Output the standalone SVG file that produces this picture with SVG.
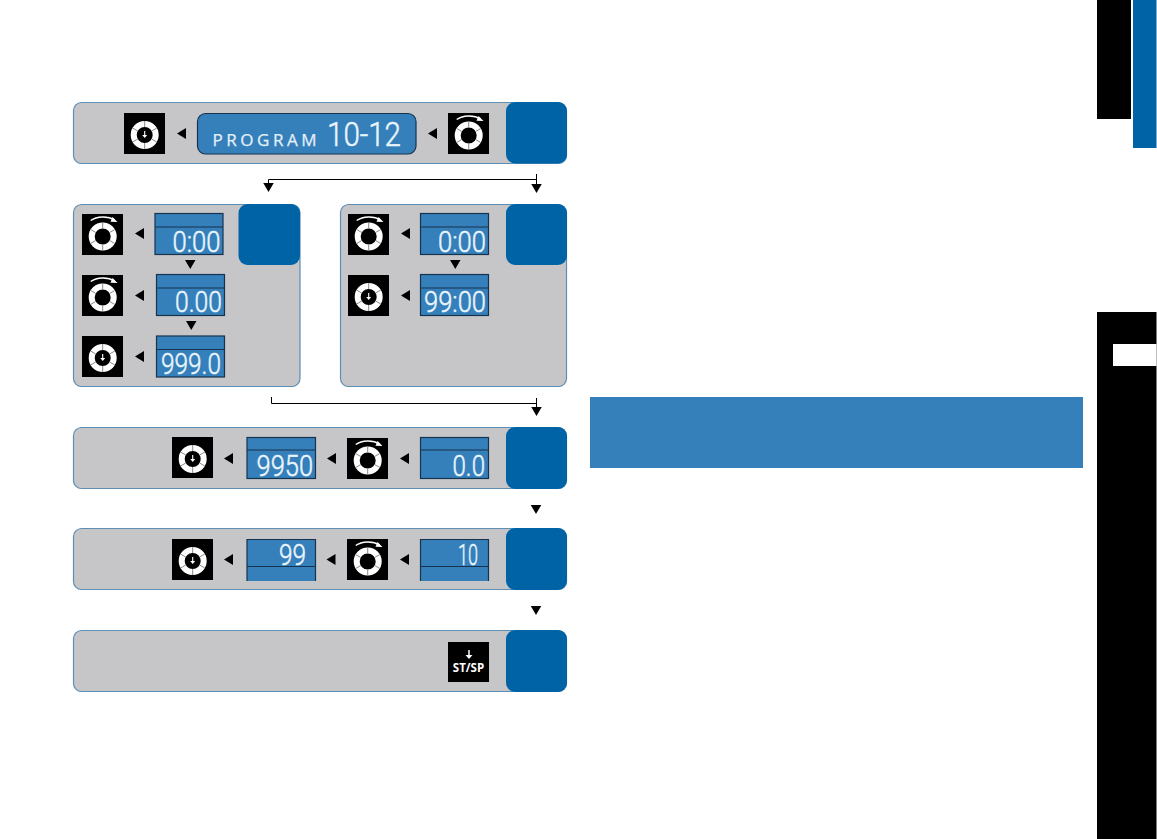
<svg xmlns="http://www.w3.org/2000/svg" width="1157" height="839" viewBox="0 0 1157 839">
<style>
.panel{fill:#c6c6c9;stroke:#5d8fb5;stroke-width:1.2}
.tab{fill:#0063a6}
.lcd{fill:#3580bb;stroke:#17324d;stroke-width:1.2}
.div{stroke:#17324d;stroke-width:1.2;fill:none}
.seg{font-family:"Roboto","Liberation Sans",sans-serif;font-weight:300;font-size:30px;fill:#eaf5fc;stroke:#eaf5fc;stroke-width:.5}
.prog{font-family:"Open Sans","Liberation Sans",sans-serif;font-size:17px;fill:#e4f0f8;stroke:#e4f0f8;stroke-width:.25}
.st{font-family:"Open Sans","Liberation Sans",sans-serif;font-weight:700;font-size:11.5px;fill:#fff;text-anchor:middle}
.con{fill:none;stroke:#000;stroke-width:1}
</style>
<defs>
<g id="ring">
<circle cx="0" cy="0" r="11" fill="none" stroke="#fff" stroke-width="6"/>
<path d="M0 -14V-8M0 14V8M12.100 -7L6.900 -4M-12.100 -7L-6.900 -4M12.100 7L6.900 4M-12.100 7L-6.900 4" stroke="#8a8a8a" stroke-width="1"/>
</g>
<g id="push">
<rect width="41" height="41" fill="#000"/>
<use href="#ring" x="20.700" y="22"/>
<path d="M20.700 18V23" stroke="#fff" stroke-width="1.100"/>
<path d="M18.200 22H23.200L20.700 25Z" fill="#fff"/>
</g>
<g id="turn">
<rect width="41" height="41" fill="#000"/>
<use href="#ring" x="20.700" y="22.500"/>
<path d="M8.700 6.500C15 1.800 26 1.800 32.500 5.800" fill="none" stroke="#fff" stroke-width="1.500"/>
<path d="M30.500 3L35.500 8L28.500 7.800Z" fill="#fff"/>
</g>
<path id="al" d="M0 5.500L9 0V11Z" fill="#000"/>
<path id="ad" d="M0 0H10.500L5.250 9Z" fill="#000"/>
</defs>

<g id="connectors">
<path class="con" d="M268.500 188V179.500H537M536.500 174V188"/>
<use href="#ad" x="263.250" y="183"/>
<use href="#ad" x="531.250" y="184"/>
<path class="con" d="M271.500 397V403.500H537M536.500 398V411"/>
<use href="#ad" x="531.250" y="407"/>
<use href="#ad" x="530.750" y="505"/>
<use href="#ad" x="530.750" y="606"/>
</g>

<g id="node-program">
<rect class="panel" x="73.500" y="102.500" width="493" height="61" rx="8"/>
<rect class="tab" x="506" y="102" width="61" height="61.500" rx="9"/>
<use href="#push" x="124" y="113"/>
<use href="#al" x="177" y="128"/>
<rect class="lcd" x="197.500" y="113.500" width="218.500" height="40.500" rx="8"/>
<text class="prog" x="212.500" y="146" textLength="104">PROGRAM</text>
<text class="seg" x="327" y="146" style="font-size:34px" textLength="74" lengthAdjust="spacingAndGlyphs">10-12</text>
<use href="#al" x="428" y="128"/>
<use href="#turn" x="448" y="113"/>
</g>

<g id="node-left">
<rect class="panel" x="73.500" y="204.500" width="226.500" height="182" rx="8"/>
<rect class="tab" x="238.500" y="204" width="61.500" height="61" rx="9"/>
<use href="#turn" x="82" y="214"/>
<use href="#al" x="135" y="228"/>
<rect class="lcd" x="155" y="213.500" width="68" height="41"/>
<path class="div" d="M155 227H223"/>
<text class="seg" x="172.500" y="252" textLength="48" lengthAdjust="spacingAndGlyphs">0:00</text>
<use href="#ad" x="185" y="260"/>
<use href="#turn" x="82" y="275"/>
<use href="#al" x="135" y="290"/>
<rect class="lcd" x="156.500" y="274.500" width="68" height="41"/>
<path class="div" d="M156.500 288H224.500"/>
<text class="seg" x="175" y="312" textLength="47" lengthAdjust="spacingAndGlyphs">0.00</text>
<use href="#ad" x="186" y="321"/>
<use href="#push" x="82" y="336"/>
<use href="#al" x="135" y="351"/>
<rect class="lcd" x="156.500" y="336" width="68" height="41"/>
<path class="div" d="M156.500 349.500H224.500"/>
<text class="seg" x="161" y="374" textLength="60" lengthAdjust="spacingAndGlyphs">999.0</text>
</g>

<g id="node-right">
<rect class="panel" x="340.500" y="204.500" width="226" height="182" rx="8"/>
<rect class="tab" x="506" y="204" width="61" height="61" rx="9"/>
<use href="#turn" x="348" y="214"/>
<use href="#al" x="401" y="228"/>
<rect class="lcd" x="420.500" y="213.500" width="68" height="41"/>
<path class="div" d="M420.500 227H488.500"/>
<text class="seg" x="438" y="252" textLength="48" lengthAdjust="spacingAndGlyphs">0:00</text>
<use href="#ad" x="450" y="260"/>
<use href="#push" x="348" y="275"/>
<use href="#al" x="401" y="290"/>
<rect class="lcd" x="420.500" y="274.500" width="68" height="41"/>
<path class="div" d="M420.500 288H488.500"/>
<text class="seg" x="424" y="312" textLength="62" lengthAdjust="spacingAndGlyphs">99:00</text>
</g>

<g id="node-row4">
<rect class="panel" x="73.500" y="427.500" width="493" height="61" rx="8"/>
<rect class="tab" x="506" y="427" width="61" height="62" rx="9"/>
<use href="#push" x="172" y="437"/>
<use href="#al" x="224" y="453"/>
<rect class="lcd" x="247" y="437.500" width="68.500" height="41"/>
<path class="div" d="M247 450H315.500"/>
<text class="seg" x="256.500" y="476" textLength="56.500" lengthAdjust="spacingAndGlyphs">9950</text>
<use href="#al" x="327" y="453"/>
<use href="#turn" x="347" y="438"/>
<use href="#al" x="400" y="453"/>
<rect class="lcd" x="420.500" y="437.500" width="68" height="41"/>
<path class="div" d="M420.500 450H488.500"/>
<text class="seg" x="452.500" y="476" textLength="32.500" lengthAdjust="spacingAndGlyphs">0.0</text>
</g>

<g id="node-row5">
<rect class="panel" x="73.500" y="528.500" width="493" height="61" rx="8"/>
<rect class="tab" x="506" y="528" width="61" height="62" rx="9"/>
<use href="#push" x="172" y="539"/>
<use href="#al" x="224" y="554"/>
<path d="M247 581V539.500H315.500V581" fill="#3580bb" stroke="#17324d" stroke-width="1.200"/>
<path class="div" d="M247 566.500H315.500"/>
<text class="seg" x="279" y="565" textLength="27" lengthAdjust="spacingAndGlyphs">99</text>
<use href="#al" x="326.500" y="554"/>
<use href="#turn" x="347" y="539"/>
<use href="#al" x="400" y="554"/>
<path d="M420.500 581V539.500H488.500V581" fill="#3580bb" stroke="#17324d" stroke-width="1.200"/>
<path class="div" d="M420.500 566.500H488.500"/>
<text class="seg" x="458" y="565" textLength="20" lengthAdjust="spacingAndGlyphs">10</text>
</g>

<g id="node-row6">
<rect class="panel" x="73.500" y="630.500" width="493" height="61" rx="8"/>
<rect class="tab" x="506" y="630" width="61" height="62" rx="9"/>
<rect x="448" y="642" width="41" height="40" fill="#000"/>
<path d="M469 650V657" stroke="#fff" stroke-width="1.500"/>
<path d="M465.500 655H472.500L469 659Z" fill="#fff"/>
<text class="st" x="468.500" y="671.500">ST/SP</text>
</g>

<rect id="banner" x="590" y="397" width="493" height="71" fill="#3580bb"/>
<rect x="1097" y="0" width="34" height="119" fill="#000"/>
<rect x="1133" y="0" width="23.500" height="148" fill="#0063a6"/>
<rect x="1097" y="312" width="59.500" height="527" fill="#000"/>
<rect x="1113" y="344" width="43.500" height="22" fill="#fff"/>
</svg>
